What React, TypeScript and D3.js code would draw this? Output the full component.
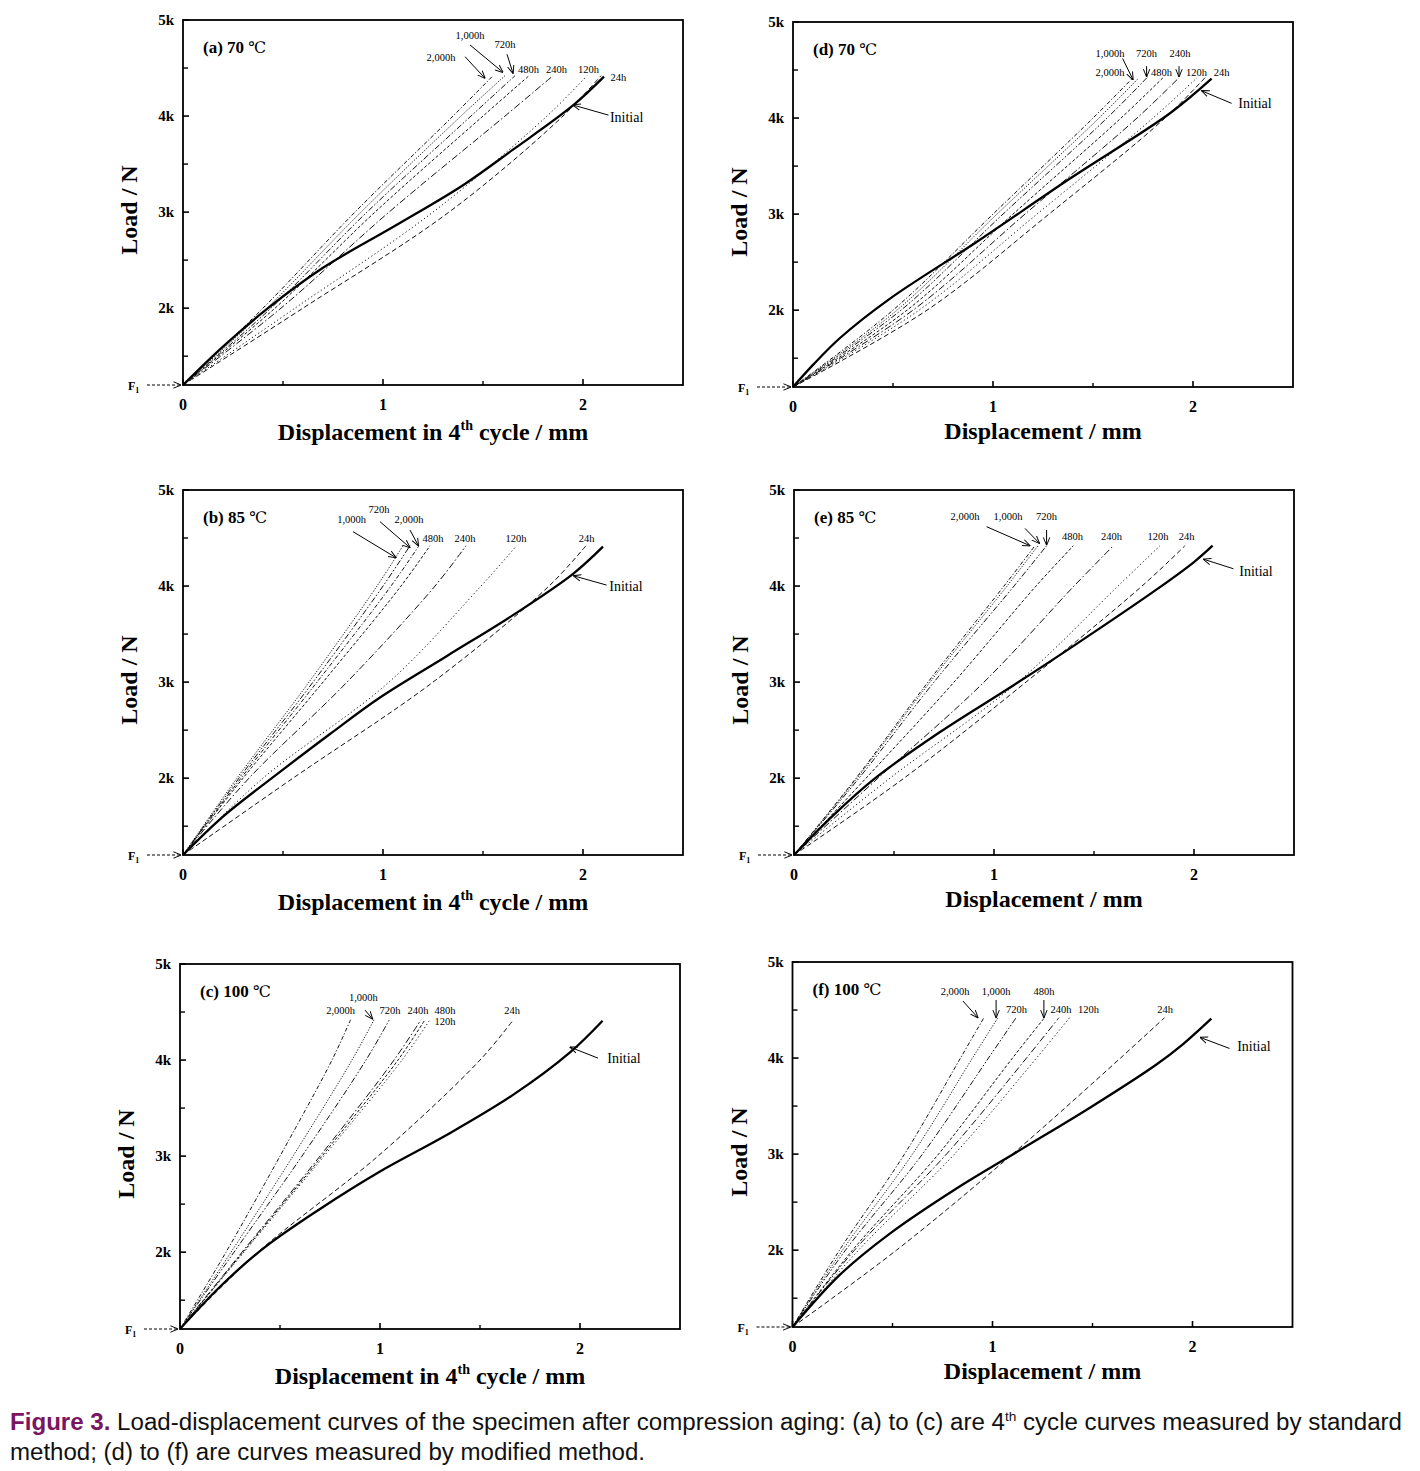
import React from 'react';
import * as d3 from 'd3';

// ---------------- data ----------------
const AGING = ['24h', '120h', '240h', '480h', '720h', '1,000h', '2,000h'];
// load levels (kN) at which the aged curves' displacements were read
const LOAD_LEVELS = [1.2, 2.0, 3.0, 4.0, 4.42];

const X_MAJOR = [0, 1, 2];
const X_TICK_LABELS = ['0', '1', '2'];
const X_MINOR = [0.5, 1.5];
const Y_MAJOR = [2, 3, 4, 5];
const Y_TICK_LABELS = ['2k', '3k', '4k', '5k'];
const Y_MINOR = [1.5, 2.5, 3.5, 4.5];

const PANEL_IDS = ['(a)', '(b)', '(c)', '(d)', '(e)', '(f)'];
const PANEL_TEMPS = ['70', '85', '100', '70', '85', '100'];

// aged curves: displacement (mm) at each LOAD_LEVEL, ordered like AGING
const agedA = [
  [0, 0.6, 1.33, 1.9, 2.09],
  [0, 0.56, 1.25, 1.82, 2.02],
  [0, 0.49, 1.03, 1.61, 1.85],
  [0, 0.46, 0.96, 1.5, 1.73],
  [0, 0.44, 0.92, 1.44, 1.66],
  [0, 0.42, 0.89, 1.39, 1.61],
  [0, 0.4, 0.86, 1.35, 1.55],
];
const agedB = [
  [0, 0.55, 1.25, 1.83, 2.015],
  [0, 0.4, 1.03, 1.49, 1.668],
  [0, 0.33, 0.82, 1.26, 1.415],
  [0, 0.3, 0.7, 1.09, 1.235],
  [0, 0.28, 0.65, 1.0, 1.135],
  [0, 0.27, 0.63, 0.97, 1.1],
  [0, 0.29, 0.67, 1.04, 1.18],
];
const agedC = [
  [0, 0.39, 0.99, 1.5, 1.667],
  [0, 0.32, 0.72, 1.11, 1.25],
  [0, 0.31, 0.7, 1.07, 1.205],
  [0, 0.315, 0.71, 1.09, 1.225],
  [0, 0.27, 0.61, 0.93, 1.047],
  [0, 0.255, 0.565, 0.86, 0.97],
  [0, 0.23, 0.5, 0.76, 0.853],
];
const agedD = [
  [0, 0.67, 1.28, 1.86, 2.06],
  [0, 0.63, 1.22, 1.8, 2.02],
  [0, 0.6, 1.16, 1.72, 1.93],
  [0, 0.57, 1.1, 1.64, 1.85],
  [0, 0.54, 1.05, 1.57, 1.77],
  [0, 0.52, 1.02, 1.53, 1.73],
  [0, 0.5, 1.0, 1.5, 1.7],
];
const agedE = [
  [0, 0.55, 1.16, 1.74, 1.955],
  [0, 0.48, 1.12, 1.62, 1.83],
  [0, 0.42, 0.95, 1.4, 1.597],
  [0, 0.36, 0.8, 1.21, 1.397],
  [0, 0.325, 0.7, 1.1, 1.263],
  [0, 0.315, 0.68, 1.065, 1.22],
  [0, 0.31, 0.67, 1.05, 1.205],
];
const agedF = [
  [0, 0.52, 1.1, 1.64, 1.86],
  [0, 0.33, 0.81, 1.22, 1.385],
  [0, 0.31, 0.77, 1.17, 1.332],
  [0, 0.3, 0.73, 1.1, 1.26],
  [0, 0.265, 0.65, 0.98, 1.118],
  [0, 0.25, 0.6, 0.9, 1.027],
  [0, 0.235, 0.56, 0.84, 0.957],
];

// initial curves: displacement (mm) and load (kN)
const initA_disp = [0, 0.2, 0.425, 0.7, 1.067, 1.4, 1.65, 1.95, 2.105];
const initA_load = [1.2, 1.6, 2.0, 2.42, 2.865, 3.28, 3.65, 4.11, 4.41];
const initB_disp = [0, 0.2, 0.485, 0.735, 0.985, 1.318, 1.652, 1.952, 2.1];
const initB_load = [1.2, 1.6, 2.065, 2.46, 2.84, 3.27, 3.7, 4.13, 4.41];
const initC_disp = [0, 0.2, 0.417, 0.7, 1.0, 1.333, 1.667, 1.95, 2.113];
const initC_load = [1.2, 1.64, 2.04, 2.45, 2.84, 3.22, 3.64, 4.08, 4.41];
const initD_disp = [0, 0.1, 0.235, 0.485, 0.918, 1.385, 1.885, 2.093];
const initD_load = [1.2, 1.43, 1.71, 2.12, 2.71, 3.37, 4.05, 4.41];
const initE_disp = [0, 0.2, 0.4, 0.73, 1.1, 1.4, 1.81, 2.0, 2.093];
const initE_load = [1.2, 1.62, 1.99, 2.48, 2.97, 3.38, 3.96, 4.25, 4.42];
const initF_disp = [0, 0.235, 0.485, 0.818, 1.152, 1.485, 1.818, 1.95, 2.094];
const initF_load = [1.2, 1.74, 2.17, 2.64, 3.06, 3.48, 3.93, 4.14, 4.41];

// ---------------- annotations (data units) ----------------
const labelsA: [string, number, number][] = [
  ['1,000h', 1.435, 4.8], ['720h', 1.61, 4.71], ['2,000h', 1.29, 4.57],
  ['480h', 1.727, 4.45], ['240h', 1.868, 4.45], ['120h', 2.027, 4.45], ['24h', 2.177, 4.36],
];
const labelsB: [string, number, number][] = [
  ['1,000h', 0.843, 4.656], ['720h', 0.98, 4.76], ['2,000h', 1.13, 4.656],
  ['480h', 1.25, 4.46], ['240h', 1.41, 4.46], ['120h', 1.665, 4.46], ['24h', 2.018, 4.46],
];
const labelsC: [string, number, number][] = [
  ['1,000h', 0.917, 4.62], ['2,000h', 0.803, 4.48], ['720h', 1.05, 4.48],
  ['240h', 1.19, 4.48], ['480h', 1.325, 4.48], ['120h', 1.325, 4.36], ['24h', 1.66, 4.48],
];
const labelsD: [string, number, number][] = [
  ['1,000h', 1.585, 4.638], ['720h', 1.768, 4.638], ['240h', 1.935, 4.638],
  ['2,000h', 1.585, 4.44], ['480h', 1.843, 4.44], ['120h', 2.018, 4.44], ['24h', 2.143, 4.44],
];
const labelsE: [string, number, number][] = [
  ['2,000h', 0.855, 4.69], ['1,000h', 1.07, 4.69], ['720h', 1.263, 4.69],
  ['480h', 1.393, 4.48], ['240h', 1.588, 4.48], ['120h', 1.82, 4.48], ['24h', 1.963, 4.48],
];
const labelsF: [string, number, number][] = [
  ['2,000h', 0.813, 4.66], ['1,000h', 1.018, 4.66], ['480h', 1.257, 4.66],
  ['720h', 1.12, 4.47], ['240h', 1.343, 4.47], ['120h', 1.48, 4.47], ['24h', 1.863, 4.47],
];
const initialLabelPos: [number, number][] = [
  [2.218, 3.94], [2.215, 3.95], [2.22, 3.97], [2.31, 4.1], [2.31, 4.1], [2.307, 4.07],
];
// arrows: [x1, y1, x2, y2] in data units (last one points at the Initial curve)
const arrowsA = [[1.41, 4.618, 1.51, 4.393], [1.435, 4.74, 1.6, 4.455], [1.62, 4.643, 1.65, 4.445], [2.127, 4.01, 1.95, 4.115]];
const arrowsB = [[0.85, 4.566, 1.065, 4.295], [0.985, 4.67, 1.135, 4.4], [1.135, 4.583, 1.177, 4.42], [2.118, 4.01, 1.952, 4.107]];
const arrowsC = [[0.925, 4.52, 0.963, 4.427], [2.09, 4.02, 1.95, 4.135]];
const arrowsD = [[1.648, 4.62, 1.7, 4.4], [1.768, 4.54, 1.768, 4.43], [1.93, 4.54, 1.93, 4.43], [2.193, 4.153, 2.043, 4.284]];
const arrowsE = [[0.963, 4.618, 1.18, 4.42], [1.155, 4.6, 1.227, 4.445], [1.263, 4.583, 1.263, 4.427], [2.197, 4.18, 2.047, 4.28]];
const arrowsF = [[0.852, 4.594, 0.927, 4.42], [1.018, 4.604, 1.018, 4.42], [1.257, 4.604, 1.257, 4.42], [2.185, 4.1, 2.038, 4.215]];

// ---------------- layout / style ----------------
const LAYOUT = [
  { left: 183, top: 20, std: true },
  { left: 183, top: 490, std: true },
  { left: 180, top: 964, std: true },
  { left: 793, top: 22, std: false },
  { left: 794, top: 490, std: false },
  { left: 792.5, top: 962, std: false },
];
const AGED = [agedA, agedB, agedC, agedD, agedE, agedF];
const INIT_D = [initA_disp, initB_disp, initC_disp, initD_disp, initE_disp, initF_disp];
const INIT_L = [initA_load, initB_load, initC_load, initD_load, initE_load, initF_load];
const LABELS = [labelsA, labelsB, labelsC, labelsD, labelsE, labelsF];
const ARROWS = [arrowsA, arrowsB, arrowsC, arrowsD, arrowsE, arrowsF];
const DASHES = ['5,3', '1.2,2.6', '7,2.5,1.5,2.5', '3,2', '6,2,1.5,2,1.5,2', '1.2,1.6', '4,2,1.2,2'];
const W = 500;
const H = 365;
const SERIF = "'Liberation Serif', 'Times New Roman', serif";
const SANS = "'Liberation Sans', Arial, sans-serif";

function Panel({ i }: { i: number }) {
  const L = LAYOUT[i];
  const x = d3.scaleLinear().domain([0, 2.5]).range([L.left, L.left + W]);
  const y = d3.scaleLinear().domain([1.2, 5]).range([L.top + H, L.top]);
  const line = d3
    .line<[number, number]>()
    .x((p) => x(p[0]))
    .y((p) => y(p[1]))
    .curve(d3.curveCatmullRom.alpha(0.5));
  const bottom = y(1.2);
  const initPts: [number, number][] = INIT_D[i].map((dv, k) => [dv, INIT_L[i][k]]);
  return (
    <g>
      {AGED[i].map((disp, s) => (
        <path
          key={s}
          d={line(disp.map((dv, k) => [dv, LOAD_LEVELS[k]] as [number, number])) || ''}
          fill="none"
          stroke="#111"
          strokeWidth={1}
          strokeDasharray={DASHES[s]}
        />
      ))}
      <path d={line(initPts) || ''} fill="none" stroke="#000" strokeWidth={2.3} />
      <rect x={x(0)} y={y(5)} width={W} height={H} fill="none" stroke="#000" strokeWidth={1.8} />
      {X_MAJOR.map((v) => (
        <line key={'xm' + v} x1={x(v)} x2={x(v)} y1={bottom} y2={bottom - 6} stroke="#000" strokeWidth={1.6} />
      ))}
      {X_MINOR.map((v) => (
        <line key={'xn' + v} x1={x(v)} x2={x(v)} y1={bottom} y2={bottom - 4} stroke="#000" strokeWidth={1.4} />
      ))}
      {Y_MAJOR.map((v) => (
        <line key={'ym' + v} x1={x(0)} x2={x(0) + 6} y1={y(v)} y2={y(v)} stroke="#000" strokeWidth={1.6} />
      ))}
      {Y_MINOR.map((v) => (
        <line key={'yn' + v} x1={x(0)} x2={x(0) + 5} y1={y(v)} y2={y(v)} stroke="#000" strokeWidth={1.4} />
      ))}
      {X_MAJOR.map((v, k) => (
        <text key={'xl' + v} x={x(v)} y={bottom + 25} textAnchor="middle" fontFamily={SERIF} fontWeight="bold" fontSize={16}>
          {X_TICK_LABELS[k]}
        </text>
      ))}
      {Y_MAJOR.map((v, k) => (
        <text key={'yl' + v} x={x(0) - 9} y={y(v) + 5} textAnchor="end" fontFamily={SERIF} fontWeight="bold" fontSize={15}>
          {Y_TICK_LABELS[k]}
        </text>
      ))}
      <text x={x(0) - 55} y={bottom + 5} fontFamily={SERIF} fontWeight="bold" fontSize={12}>
        F<tspan fontSize={8} dy={3}>1</tspan>
      </text>
      <line x1={x(0) - 36} x2={x(0) - 2} y1={bottom} y2={bottom} stroke="#000" strokeWidth={1} strokeDasharray="3,2" markerEnd="url(#arrowHead)" />
      <text
        transform={`translate(${x(0) - 46},${y(5) + 190}) rotate(-90)`}
        textAnchor="middle"
        fontFamily={SERIF}
        fontWeight="bold"
        fontSize={24}
      >
        Load / N
      </text>
      {L.std ? (
        <text x={x(1.25)} y={bottom + 55} textAnchor="middle" fontFamily={SERIF} fontWeight="bold" fontSize={24}>
          Displacement in 4<tspan fontSize={14} dy={-10}>th</tspan>
          <tspan dy={10}> cycle / mm</tspan>
        </text>
      ) : (
        <text x={x(1.25)} y={bottom + 52} textAnchor="middle" fontFamily={SERIF} fontWeight="bold" fontSize={24}>
          Displacement / mm
        </text>
      )}
      <text x={x(0.1)} y={y(4.656)} fontFamily={SERIF} fontWeight="bold" fontSize={17}>
        {PANEL_IDS[i]} {PANEL_TEMPS[i]}{' '}
        <tspan fontWeight="normal" fontFamily="'DejaVu Serif', serif" fontSize={16}>
          ℃
        </tspan>
      </text>
      {LABELS[i].map(([t, dv, lv], k) => (
        <text key={'lb' + k} x={x(dv)} y={y(lv)} textAnchor="middle" fontFamily={SERIF} fontSize={10.5}>
          {t}
        </text>
      ))}
      <text x={x(initialLabelPos[i][0])} y={y(initialLabelPos[i][1])} textAnchor="middle" fontFamily={SERIF} fontSize={14}>
        Initial
      </text>
      {ARROWS[i].map((a, k) => (
        <line
          key={'ar' + k}
          x1={x(a[0])}
          y1={y(a[1])}
          x2={x(a[2])}
          y2={y(a[3])}
          stroke="#000"
          strokeWidth={1}
          markerEnd="url(#arrowHead)"
        />
      ))}
    </g>
  );
}

export default function App() {
  return (
    <div>
      <style>{'body{margin:0;background:#fff;}'}</style>
      <svg width={1420} height={1471} viewBox="0 0 1420 1471" style={{ display: 'block', background: '#fff' }}>
        <defs>
          <marker id="arrowHead" viewBox="0 0 10 10" refX={9.5} refY={5} markerWidth={8} markerHeight={8} orient="auto" markerUnits="userSpaceOnUse">
            <path d="M0,1 L10,5 L0,9" fill="none" stroke="#000" strokeWidth={1.2} />
          </marker>
        </defs>
        <rect x={0} y={0} width={1420} height={1471} fill="#fff" />
        {LAYOUT.map((_, i) => (
          <Panel key={i} i={i} />
        ))}
        <text x={10} y={1430} fontFamily={SANS} fontSize={23} textLength={1392} lengthAdjust="spacingAndGlyphs" fill="#111">
          <tspan fill="#7a1563" fontWeight="bold">
            Figure 3.
          </tspan>{' '}
          Load-displacement curves of the specimen after compression aging: (a) to (c) are 4
          <tspan fontSize={13} dy={-9}>
            th
          </tspan>
          <tspan dy={9}> cycle curves measured by standard</tspan>
        </text>
        <text x={10} y={1460} fontFamily={SANS} fontSize={23} textLength={635} lengthAdjust="spacingAndGlyphs" fill="#111">
          method; (d) to (f) are curves measured by modified method.
        </text>
      </svg>
    </div>
  );
}
